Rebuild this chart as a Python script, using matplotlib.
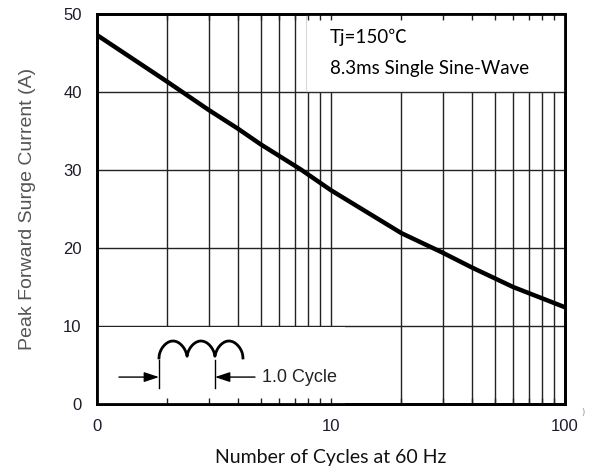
import numpy as np
import matplotlib
matplotlib.use("Agg")
import matplotlib.pyplot as plt
from matplotlib.patches import Rectangle

# surge current curve
cycles = [1, 2, 3, 4, 5, 7.4, 10, 20, 30, 40, 60, 100]
current = [47.3, 41.3, 37.7, 35.3, 33.3, 30.1, 27.4, 21.9, 19.4, 17.5, 15.0, 12.4]

x_tick_vals = [1, 10, 100]
x_tick_labels = ["0", "10", "100"]
y_tick_vals = [0, 10, 20, 30, 40, 50]

fig = plt.figure(figsize=(5.98, 4.76), dpi=100)
ax = fig.add_axes([0.1622, 0.1513, 0.7826, 0.8193])

ax.set_xscale("log")
ax.set_xlim(1, 100)
ax.set_ylim(0, 50)
ax.set_xticks(x_tick_vals, x_tick_labels)
ax.set_yticks(y_tick_vals)
ax.grid(True, which="both", axis="x", color="#222222", lw=1.0)
ax.grid(True, which="major", axis="y", color="#222222", lw=1.0)
ax.tick_params(which="both", length=0, labelsize=12, labelcolor="#1c1c2c", pad=11)
for lab in ax.get_xticklabels() + ax.get_yticklabels():
    lab.set_family("Liberation Sans")

# white boxes that hide the grid behind the notes
ax.add_patch(Rectangle((0.4476, 0.803), 0.5524, 0.197, transform=ax.transAxes,
                       facecolor="white", edgecolor="#d8d8d8", lw=0.8, zorder=2.6))
ax.add_patch(Rectangle((0.0, 0.0), 0.53, 0.197, transform=ax.transAxes,
                       facecolor="white", edgecolor="none", zorder=2.6))

ax.plot(cycles, current, color="black", lw=3.2, zorder=3, solid_capstyle="butt")

ax.set_ylabel("Peak Forward Surge Current (A)", fontsize=14, color="#555555",
              family="Liberation Sans")
ax.yaxis.set_label_coords(-0.13, 0.5)
ax.set_xlabel("Number of Cycles at 60 Hz", fontsize=14, color="#111111",
              family=["Lato", "DejaVu Sans"])
ax.xaxis.set_label_coords(0.5, -0.115)

fam = ["Lato", "Noto Sans CJK SC", "DejaVu Sans"]
ax.text(0.498, 0.941, "Tj=150℃", transform=ax.transAxes, fontsize=13.5,
        family=fam, va="center", ha="left", zorder=4)
ax.text(0.498, 0.8615, "8.3ms Single Sine-Wave", transform=ax.transAxes,
        fontsize=13.5, family=fam, va="center", ha="left", zorder=4)

# one-cycle sketch
x0, hw = 0.1325, 0.0598
t = np.linspace(0, 3 * np.pi, 300)
ax.plot(x0 + t / np.pi * hw, 0.118 + 0.0435 * np.abs(np.sin(t)) ** 0.5,
        transform=ax.transAxes, color="black", lw=2, zorder=4)
for xm in [x0, x0 + 2 * hw]:
    ax.plot([xm, xm], [0.041, 0.113], transform=ax.transAxes, color="black",
            lw=1, zorder=4)
arrow = dict(arrowstyle="-|>,head_length=0.9,head_width=0.3", color="black",
             lw=1, shrinkA=0, shrinkB=0)
ax.annotate("", xy=(x0, 0.069), xytext=(0.047, 0.069), xycoords="axes fraction",
            arrowprops=arrow, zorder=4)
ax.annotate("", xy=(x0 + 2 * hw, 0.069), xytext=(0.3376, 0.069),
            xycoords="axes fraction", arrowprops=arrow, zorder=4)
ax.text(0.3526, 0.069, "1.0 Cycle", transform=ax.transAxes, fontsize=13,
        family="Liberation Sans", color="#222222", va="center", ha="left", zorder=4)
ax.text(1.038, -0.023, ")", transform=ax.transAxes, fontsize=6, color="#8888aa",
        va="center", ha="center")

# second layer for ticks and frame on top of the white boxes
ax2 = fig.add_axes(ax.get_position(), sharex=ax, sharey=ax)
ax2.patch.set_visible(False)
ax2.tick_params(which="both", direction="in", top=True, bottom=True, left=False,
                labelbottom=False, labelleft=False, color="#222222")
ax2.tick_params(which="major", length=4, width=1)
ax2.tick_params(which="minor", length=4, width=1)
for ax_ in (ax, ax2):
    for s in ax_.spines.values():
        s.set_linewidth(2)
        s.set_color("black")

fig.savefig("out.png", dpi=100)
